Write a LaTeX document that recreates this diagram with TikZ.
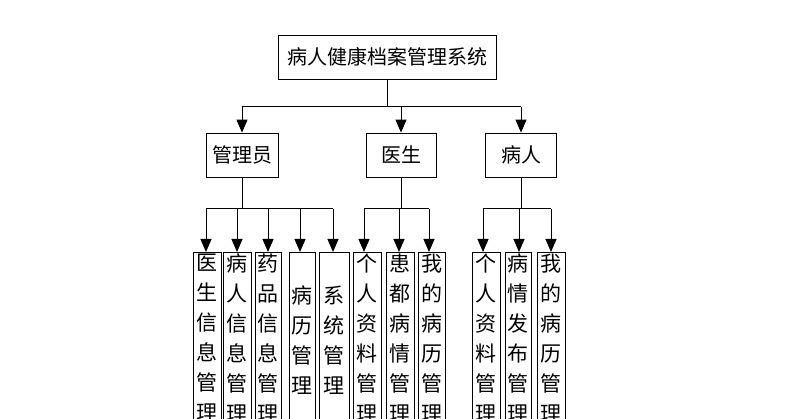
\documentclass[tikz,border=0pt]{standalone}
\usepackage{fontspec}
\newfontfamily\cjk{Noto Sans CJK SC}[Scale=1]
\usetikzlibrary{arrows.meta}
\begin{document}
\begin{tikzpicture}[x=1pt,y=-1pt,
  box/.style={draw,line width=0.8pt,font=\cjk\fontsize{20}{24}\selectfont,inner sep=0pt},
  vt/.style={font=\cjk\fontsize{21}{30}\selectfont,align=center,anchor=north,inner sep=0pt},
  arr/.style={line width=1pt,-{Triangle[length=13pt,width=11pt]}},
  ln/.style={line width=1pt}]
\clip (0,0) rectangle (796,419);
\fill[white] (0,0) rectangle (796,419);
\node[box,minimum width=218pt,minimum height=44pt] (root) at (387,57) {病人健康档案管理系统};
\node[box,minimum width=72pt,minimum height=44pt] (a) at (242,155) {管理员};
\node[box,minimum width=70pt,minimum height=44pt] (b) at (401,155) {医生};
\node[box,minimum width=71pt,minimum height=44pt] (c) at (521,155) {病人};
\coordinate (r1) at (387,107);
\draw[ln] (root.south) -- (r1);
\draw[ln] (242,107) -- (521,107);
\draw[arr] (242,107) -- (a.north);
\draw[arr] (401,107) -- (b.north);
\draw[arr] (521,107) -- (c.north);
% leaf boxes
\foreach \n/\l/\r/\t/\ax/\tx in {
 l1/193/221/{医\\生\\信\\息\\管\\理}/206/254,
 l2/223/251/{病\\人\\信\\息\\管\\理}/237/254,
 l3/255/281/{药\\品\\信\\息\\管\\理}/268/254,
 l4/289/315/{病\\历\\管\\理}/300/286,
 l5/319/349/{系\\统\\管\\理}/333/286,
 l6/353/381/{个\\人\\资\\料\\管\\理}/364/254,
 l7/386/414/{患\\都\\病\\情\\管\\理}/399/254,
 l8/418/445/{我\\的\\病\\历\\管\\理}/429/254,
 l9/472/500/{个\\人\\资\\料\\管\\理}/483/254,
 l10/505/531/{病\\情\\发\\布\\管\\理}/519/254,
 l11/537/565/{我\\的\\病\\历\\管\\理}/551/254}{
  \draw[line width=0.8pt] (\l,430) -- (\l,252) -- (\r,252) -- (\r,430);
  \coordinate (\n) at (\ax,252);
  \node[vt] (\n t) at ({(\l+\r)/2},\tx) {\t};
}
\draw[ln] (a.south) -- (242,209);
\draw[ln] (206,209) -- (333,209);
\foreach \n in {l1,l2,l3,l4,l5}{\draw[arr] (\n |- 0,209) -- (\n);}
\draw[ln] (b.south) -- (401,209);
\draw[ln] (364,209) -- (429,209);
\foreach \n in {l6,l7,l8}{\draw[arr] (\n |- 0,209) -- (\n);}
\draw[ln] (c.south) -- (521,209);
\draw[ln] (483,209) -- (551,209);
\foreach \n in {l9,l10,l11}{\draw[arr] (\n |- 0,209) -- (\n);}
\end{tikzpicture}
\end{document}
